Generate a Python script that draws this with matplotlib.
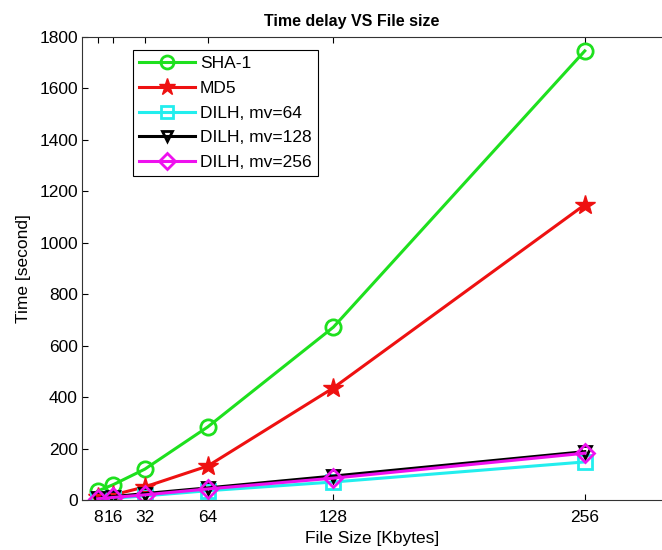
import numpy as np
import matplotlib.pyplot as plt

plt.rcParams['font.family'] = ['Liberation Sans', 'DejaVu Sans']

# data
file_size = [8, 16, 32, 64, 128, 256]
sha1 = [35, 60, 120, 284, 672, 1746]
md5 = [10, 20, 51, 132, 436, 1148]
dilh64 = [3, 7, 16, 36, 70, 148]
dilh128 = [6, 13, 25, 47, 93, 188]
dilh256 = [5, 10, 20, 43, 85, 182]

x_ticks = [8, 16, 32, 64, 128, 256]
x_labels = ['8', '16', '32', '64', '128', '256']
y_ticks = np.arange(0, 1801, 200)

fig = plt.figure(figsize=(6.62, 5.5), dpi=100)
ax = fig.add_axes([82/662, 50/550, 580/662, 463/550])

lw = 2.2
ax.plot(file_size, sha1, color='#1ee01e', lw=lw, marker='o', ms=11,
        mfc='none', mew=2, label='SHA-1')
ax.plot(file_size, md5, color='#ee1111', lw=lw, marker='*', ms=15,
        mfc='#ee1111', mew=1, label='MD5')
ax.plot(file_size, dilh64, color='#22eeee', lw=lw, marker='s', ms=10,
        mfc='none', mew=2, label='DILH, mv=64')
ax.plot(file_size, dilh128, color='black', lw=lw, marker='v', ms=9,
        mfc='none', mew=2, label='DILH, mv=128')
ax.plot(file_size, dilh256, color='#ee11ee', lw=lw, marker='D', ms=9,
        mfc='none', mew=2, label='DILH, mv=256')

ax.set_xlim(0, 580/1.964)
ax.set_ylim(0, 1800)
ax.set_xticks(x_ticks)
ax.set_xticklabels(x_labels)
ax.set_yticks(y_ticks)
ax.tick_params(direction='in', length=4, top=True, labelsize=12.5)
ax.tick_params(axis='x', pad=7)
ax.tick_params(axis='y', pad=3)
ax.spines['right'].set_visible(False)
for s in ['left', 'bottom', 'top']:
    ax.spines[s].set_color('#333333')

# x label placed as figure text under the tick labels
fig.text(372/662, 1 - 538/550, 'File Size [Kbytes]', fontsize=12.5,
         ha='center', va='center')
ax.set_ylabel('Time [second]', fontsize=12.5, labelpad=6)
ax.set_title('Time delay VS File size', fontsize=11.5, fontweight='bold',
             x=(352-82)/580, pad=8)

leg = ax.legend(loc='upper left', bbox_to_anchor=(0.088, 0.972),
                borderaxespad=0, fontsize=12.5, handlelength=3.2,
                handletextpad=0.3, fancybox=False, framealpha=1,
                borderpad=0.35, labelspacing=0.55, markerscale=0.85)
leg.get_frame().set_edgecolor('black')
leg.get_frame().set_linewidth(0.8)

fig.savefig('out.png', dpi=100)
